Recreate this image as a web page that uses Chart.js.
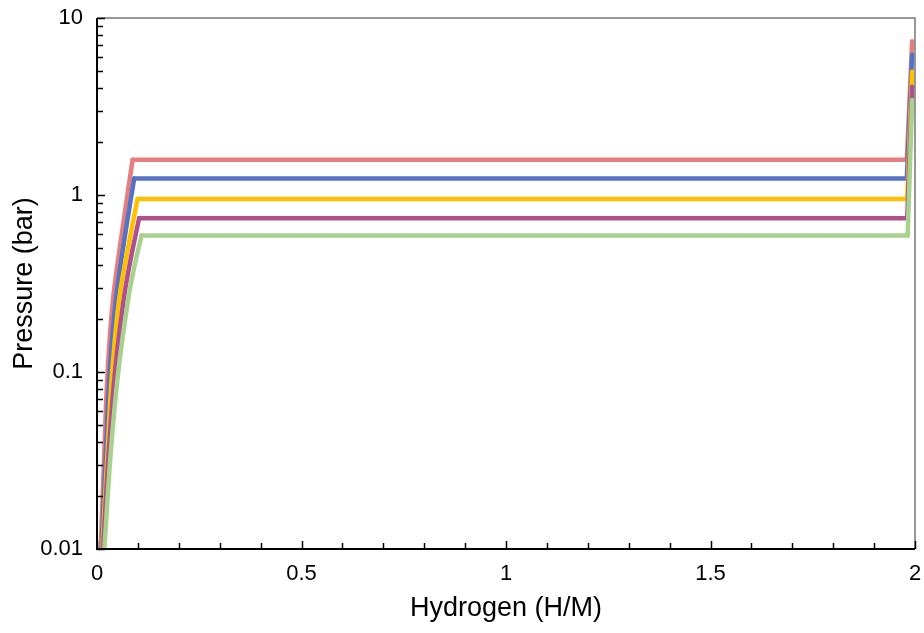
<!DOCTYPE html>
<html>
<head>
<meta charset="utf-8">
<script src="https://cdn.jsdelivr.net/npm/chart.js@4.4.1/dist/chart.umd.min.js"></script>
<style>
  html, body { margin: 0; padding: 0; background: #fff; }
  #wrap { width: 924px; height: 633px; }
</style>
</head>
<body>
<div id="wrap"><canvas id="myChart" width="924" height="633"></canvas></div>
<script>
// hydrogen content (H/M) and pressure (bar) for each isotherm
const xRed    = [0.009, 0.018, 0.026, 0.039, 0.062, 0.087, 1.980, 1.993]
const pRed    = [0.01, 0.036, 0.1, 0.255, 0.635, 1.58, 1.58, 7.4]
const xBlue   = [0.011, 0.022, 0.031, 0.046, 0.067, 0.091, 1.980, 1.993]
const pBlue   = [0.01, 0.036, 0.1, 0.255, 0.56, 1.24, 1.24, 6.2]
const xYellow = [0.013, 0.026, 0.037, 0.054, 0.075, 0.099, 1.981, 1.993]
const pYellow = [0.01, 0.036, 0.1, 0.255, 0.49, 0.95, 0.95, 4.97]
const xPurple = [0.015, 0.029, 0.044, 0.065, 0.082, 0.103, 1.981, 1.993]
const pPurple = [0.01, 0.036, 0.1, 0.255, 0.43, 0.74, 0.74, 4.09]
const xGreen  = [0.018, 0.034, 0.052, 0.076, 0.091, 0.109, 1.982, 1.993]
const pGreen  = [0.01, 0.036, 0.1, 0.255, 0.39, 0.59, 0.59, 3.44]

const yTicks = [0.01, 0.1, 1, 10]
const xMin = 0, xMax = 2, xStep = 0.5
const plateauStart = 5   // index of the point where the plateau begins

function pts(xs, ps){
    return xs.map((x, i) => ({x: x, y: ps[i]}))
}
// each isotherm: curved alpha-phase rise + straight plateau / end rise
function isotherm(xs, ps, color, order){
    const all = pts(xs, ps)
    return [
        {
            data: all.slice(0, plateauStart + 1),
            borderColor: color,
            borderWidth: 4.5,
            borderCapStyle: 'round',
            pointRadius: 0,
            tension: 0.4,
            fill: false,
            order: order
        },
        {
            data: all.slice(plateauStart),
            borderColor: color,
            borderWidth: 4.5,
            borderCapStyle: 'round',
            pointRadius: 0,
            tension: 0,
            fill: false,
            order: order
        }
    ]
}

////// frame + inside ticks
const frame = {
    id: 'frame',
    afterDatasetsDraw(chart){
        const {ctx, chartArea: a, scales: {x, y}} = chart
        ctx.save()
        ctx.strokeStyle = '#777'
        ctx.lineWidth = 1.5
        ctx.beginPath()
        ctx.moveTo(a.left, a.top); ctx.lineTo(a.right, a.top); ctx.lineTo(a.right, a.bottom)
        ctx.stroke()
        ctx.strokeStyle = '#000'
        ctx.lineWidth = 2
        ctx.beginPath()
        ctx.moveTo(a.left, a.top); ctx.lineTo(a.left, a.bottom); ctx.lineTo(a.right, a.bottom)
        ctx.stroke()
        ctx.lineWidth = 1.5
        ctx.beginPath()
        for (let n = -2; n <= 1; n++) {
            for (let k = 1; k <= 9; k++) {
                const v = k * Math.pow(10, n)
                if (v > 10.0001) break
                const py = Math.round(y.getPixelForValue(v)) + 0.5
                const len = k == 1 ? 8 : 6
                ctx.moveTo(a.left, py); ctx.lineTo(a.left + len, py)
            }
        }
        for (let i = 0; i <= 20; i++) {
            const px = Math.round(x.getPixelForValue(i / 10)) + 0.5
            const len = i % 5 == 0 ? 8 : 6
            ctx.moveTo(px, a.bottom); ctx.lineTo(px, a.bottom - len)
        }
        ctx.stroke()
        ctx.restore()
    }
}

const ctx = document.getElementById('myChart')
const myChart = new Chart(ctx, {
    type: 'line',
    data: {
        datasets: [
            ...isotherm(xRed, pRed, '#e57e7e', 4),
            ...isotherm(xBlue, pBlue, '#5572c5', 3),
            ...isotherm(xYellow, pYellow, '#ffc000', 2),
            ...isotherm(xPurple, pPurple, '#b04f8b', 1),
            ...isotherm(xGreen, pGreen, '#a9d18e', 0)
        ]
    },
    options: {
        responsive: false,
        animation: false,
        layout: { autoPadding: false, padding: { top: 18, right: 9, left: 0, bottom: 0 } },
        plugins: { legend: { display: false }, tooltip: { enabled: false } },
        scales: {
            x: {
                type: 'linear',
                min: xMin,
                max: xMax,
                grid: { display: false, drawTicks: false },
                border: { display: false },
                ticks: {
                    stepSize: xStep,
                    color: '#000',
                    padding: 12,
                    maxRotation: 0,
                    font: { family: 'Liberation Sans, Arial, sans-serif', size: 22 },
                    callback: v => String(v)
                },
                title: {
                    display: true,
                    text: 'Hydrogen (H/M)',
                    color: '#000',
                    padding: { top: 0, bottom: 8 },
                    font: { family: 'Liberation Sans, Arial, sans-serif', size: 27 }
                },
                afterFit: s => { s.height = 84; s.paddingLeft = 0; s.paddingRight = 0 }
            },
            y: {
                type: 'logarithmic',
                min: 0.01,
                max: 10,
                grid: { display: false, drawTicks: false },
                border: { display: false },
                afterBuildTicks: s => { s.ticks = yTicks.map(v => ({value: v})) },
                ticks: {
                    color: '#000',
                    padding: 14,
                    font: { family: 'Liberation Sans, Arial, sans-serif', size: 22 },
                    callback: v => String(v)
                },
                title: {
                    display: true,
                    text: 'Pressure (bar)',
                    color: '#000',
                    padding: { top: 8, bottom: 0 },
                    font: { family: 'Liberation Sans, Arial, sans-serif', size: 27 }
                },
                afterFit: s => { s.width = 97; s.paddingTop = 0; s.paddingBottom = 0 }
            }
        }
    },
    plugins: [frame]
})
</script>
</body>
</html>
